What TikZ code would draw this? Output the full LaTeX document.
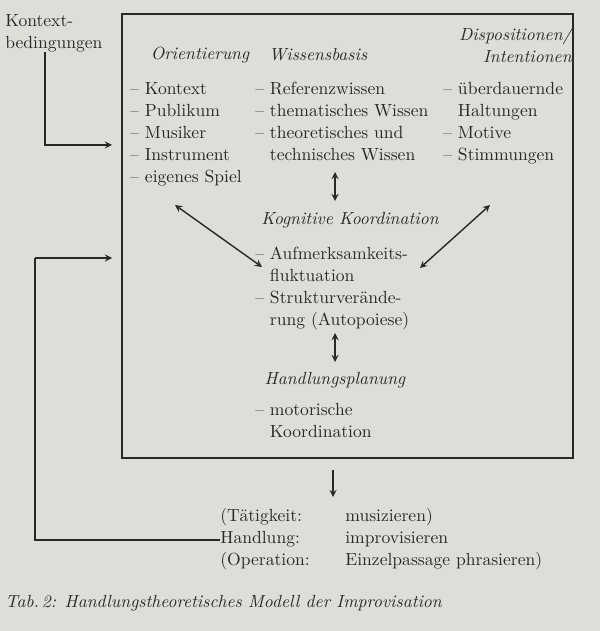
\documentclass[tikz,border=0pt]{standalone}
\usepackage{tikz}
\usetikzlibrary{positioning}
\definecolor{paper}{RGB}{222,222,216}
\definecolor{ink}{RGB}{40,40,40}
\begin{document}
\begin{tikzpicture}[>=stealth, x=0.02cm, y=-0.02cm, every node/.style={text=ink, font=\fontsize{10}{12.5}\selectfont},
	liste/.style={anchor=north west, align=left, inner sep=0pt},
	kopf/.style={font=\fontsize{10}{12.5}\selectfont\itshape, inner sep=0pt},
	pfeil/.style={draw=ink, thick}]
		%background
		\fill[paper] (0,0) rectangle (600,631);
		\useasboundingbox (0,0) rectangle (600,631);
		
		%coordinates
		\coordinate (inA) at (112,145);
		\coordinate (inB) at (112,258);
		\coordinate (cornA) at (45,145);
		\coordinate (cornB) at (35,540);
		
		%box
		\draw[ink, thick] (122,14) rectangle (573,458);
		
		%nodes
		\node[liste] (kb) at (5,14) {Kontext-\\bedingungen};
		\node[kopf] (ori) at (200,55) {Orientierung};
		\node[kopf] (wis) at (318,55) {Wissensbasis};
		\node[kopf, align=right, anchor=east] (dis) at (572,45) {Dispositionen/\\Intentionen};
		
		\node[liste] (lo) at (130,82) {-- Kontext\\-- Publikum\\-- Musiker\\-- Instrument\\-- eigenes Spiel};
		\node[liste] (lw) at (255,82) {-- Referenzwissen\\-- thematisches Wissen\\-- theoretisches und\\\phantom{-- }technisches Wissen};
		\node[liste] (ld) at (443,82) {-- überdauernde\\\phantom{-- }Haltungen\\-- Motive\\-- Stimmungen};
		
		\node[kopf] (kog) at (350,220) {Kognitive Koordination};
		\node[liste] (lk) at (255,247) {-- Aufmerksamkeits-\\\phantom{-- }fluktuation\\-- Strukturverände-\\\phantom{-- }rung (Autopoiese)};
		\node[kopf] (hp) at (335,380) {Handlungsplanung};
		\node[liste] (lh) at (255,403) {-- motorische\\\phantom{-- }Koordination};
		
		\node[liste] (tk) at (220,508) {(Tätigkeit:\\Handlung:\\(Operation:};
		\node[liste] (tw) at (345,508) {musizieren)\\improvisieren\\Einzelpassage phrasieren)};
		\node[anchor=west, inner sep=0pt, font=\fontsize{10}{12}\selectfont\itshape] (cap) at (5,603) {Tab.\,2: Handlungstheoretisches Modell der Improvisation};
		
		\draw[->, pfeil] (kb.south -| cornA) -- (cornA) -- (inA);
		\draw[<->, pfeil] (335,172) -- (335,201);
		\draw[<->, pfeil] (175,205) -- (262,267);
		\draw[<->, pfeil] (490,205) -- (420,268);
		\draw[<->, pfeil] (335,333) -- (335,362);
		\draw[->, pfeil] (333,470) -- (333,497);
		\draw[pfeil] (tk.west |- 0,540) -- (cornB) -- (cornB |- inB);
		\draw[->, pfeil] (cornB |- inB) -- (inB);
		\end{tikzpicture}
\end{document}
